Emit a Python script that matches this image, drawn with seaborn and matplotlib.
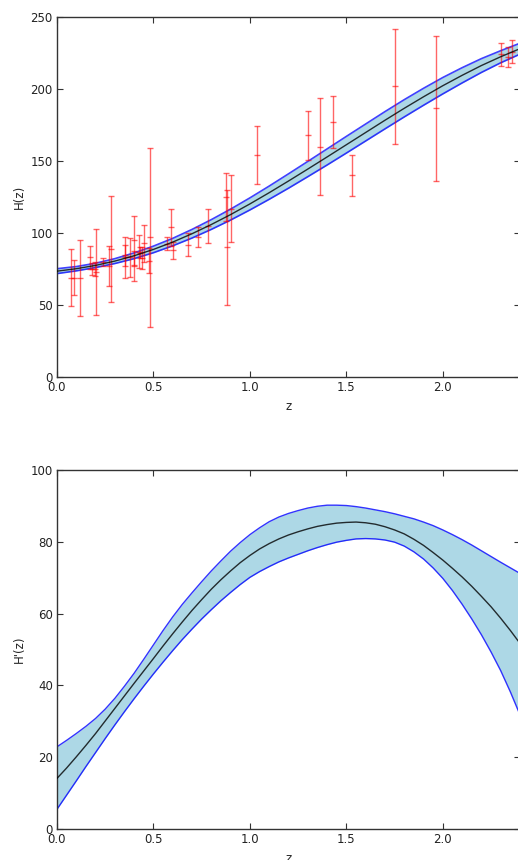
import matplotlib
matplotlib.use("Agg")
import matplotlib.pyplot as plt
import seaborn as sns
import numpy as np

# ---------------- data ----------------
z_H = [0.0, 0.1, 0.2, 0.3, 0.4, 0.5, 0.6, 0.7, 0.8, 0.9, 1.0, 1.1, 1.2,
       1.3, 1.4, 1.5, 1.6, 1.7, 1.8, 1.9, 2.0, 2.1, 2.2, 2.3, 2.4]

# reconstructed H(z): mean and 1-sigma half width
H_mean = [73.5, 75.2, 77.5, 80.5, 84.2, 88.6, 93.7, 99.5, 105.9, 112.8, 120.2,
          128.0, 136.1, 144.4, 152.8, 161.3, 169.8, 178.3, 186.6, 194.6, 202.3,
          209.5, 216.3, 222.4, 228.0]
H_sigma = [1.7, 1.5, 1.5, 1.7, 2.0, 2.3, 2.6, 3.0, 3.4, 3.8, 4.2, 4.6, 5.0,
           5.3, 5.6, 5.8, 5.9, 6.0, 6.0, 5.9, 5.7, 5.3, 4.8, 4.2, 3.8]

# reconstructed H'(z)
z_dH = [0.0, 0.05, 0.1, 0.15, 0.2, 0.25, 0.3, 0.35, 0.4, 0.45, 0.5, 0.55, 0.6,
        0.65, 0.7, 0.75, 0.8, 0.85, 0.9, 0.95, 1.0, 1.05, 1.1, 1.15, 1.2, 1.25,
        1.3, 1.35, 1.4, 1.45, 1.5, 1.55, 1.6, 1.65, 1.7, 1.75, 1.8, 1.85, 1.9,
        1.95, 2.0, 2.05, 2.1, 2.15, 2.2, 2.25, 2.3, 2.35, 2.4]
dH_upper = [22.9, 24.7, 26.6, 28.6, 30.8, 33.4, 36.4, 39.8, 43.4, 47.3, 51.3,
            55.3, 59.1, 62.6, 65.8, 68.9, 71.9, 74.7, 77.4, 79.8, 82.0, 83.9,
            85.6, 86.9, 87.9, 88.7, 89.4, 89.9, 90.2, 90.2, 90.1, 89.8, 89.4,
            88.9, 88.4, 87.8, 87.1, 86.4, 85.5, 84.5, 83.3, 82.0, 80.6, 79.1,
            77.5, 75.9, 74.3, 72.75, 71.2]
dH_mean = [14.1, 17.0, 20.1, 23.3, 26.6, 30.1, 33.6, 37.1, 40.6, 44.05, 47.5,
           51.0, 54.4, 57.7, 60.9, 63.9, 66.8, 69.45, 71.9, 74.2, 76.2, 78.0,
           79.5, 80.8, 81.9, 82.8, 83.6, 84.3, 84.8, 85.2, 85.4, 85.5, 85.3,
           84.9, 84.2, 83.3, 82.2, 80.7, 79.0, 77.0, 74.9, 72.6, 70.2, 67.6,
           64.8, 61.9, 58.7, 55.3, 51.7]
dH_lower = [5.5, 9.45, 13.4, 17.4, 21.3, 25.2, 29.0, 32.7, 36.3, 39.8, 43.2,
            46.5, 49.7, 52.8, 55.7, 58.5, 61.1, 63.6, 65.9, 68.1, 70.1, 71.7,
            73.1, 74.4, 75.5, 76.5, 77.5, 78.4, 79.2, 79.9, 80.4, 80.8, 80.9,
            80.8, 80.5, 79.9, 78.8, 77.2, 75.2, 72.7, 69.8, 66.4, 62.6, 58.5,
            54.1, 49.3, 44.1, 38.2, 31.8]

# observational H(z) data
z_obs = [0.07, 0.09, 0.12, 0.17, 0.179, 0.199, 0.2, 0.24, 0.27, 0.28, 0.35,
         0.352, 0.3802, 0.4, 0.4004, 0.4247, 0.43, 0.44, 0.4497, 0.4783, 0.48,
         0.57, 0.593, 0.6, 0.68, 0.73, 0.781, 0.875, 0.88, 0.9, 1.037, 1.3,
         1.363, 1.43, 1.53, 1.75, 1.965, 2.3, 2.34, 2.36]
H_obs = [69.0, 69.0, 68.6, 83.0, 75.0, 75.0, 72.9, 79.69, 77.0, 88.8, 84.4,
         83.0, 83.0, 95.0, 77.0, 87.1, 86.45, 82.6, 92.8, 80.9, 97.0,
         92.4, 104.0, 87.9, 92.0, 97.3, 105.0, 125.0, 90.0, 117.0, 154.0, 168.0,
         160.0, 177.0, 140.0, 202.0, 186.5, 224.0, 222.0, 226.0]
H_err = [19.6, 12.0, 26.2, 8.0, 4.0, 5.0, 29.6, 2.65, 14.0, 36.6, 7.0,
         14.0, 13.5, 17.0, 10.2, 11.2, 3.68, 7.8, 12.9, 9.0, 62.0,
         4.5, 13.0, 6.1, 8.0, 7.0, 12.0, 17.0, 40.0, 23.0, 20.0, 17.0,
         33.6, 18.0, 14.0, 40.0, 50.4, 8.0, 7.0, 8.0]

# ---------------- style ----------------
sns.set_style("ticks")
plt.rcParams['font.family'] = ['DejaVu Sans', 'Noto Sans']
spine_col = '#333333'

W, Hh = 518, 860
fig = plt.figure(figsize=(W / 100, Hh / 100), dpi=100)
ax1 = fig.add_axes([57 / W, 1 - 377 / Hh, 463 / W, 360 / Hh])
ax2 = fig.add_axes([57 / W, 1 - 829 / Hh, 463 / W, 359 / Hh])

zg = np.array(z_H)
Hm = np.array(H_mean)
Hs = np.array(H_sigma)

# ---- top panel ----
ax1.fill_between(zg, Hm - Hs, Hm + Hs, color='lightblue', lw=0, zorder=1)
sns.lineplot(x=zg, y=Hm + Hs, ax=ax1, color='blue', lw=1.2, alpha=0.75, zorder=2)
sns.lineplot(x=zg, y=Hm - Hs, ax=ax1, color='blue', lw=1.2, alpha=0.75, zorder=2)
ax1.errorbar(z_obs, H_obs, yerr=H_err, fmt='_', color='red', ecolor='red',
             alpha=0.6, elinewidth=1.0, capsize=2.2, capthick=1.0, ms=4.5,
             mew=1.0, zorder=3)
sns.lineplot(x=zg, y=Hm, ax=ax1, color='black', lw=1.0, alpha=0.8, zorder=4)
ax1.set_xlim(0, 2.4)
ax1.set_ylim(0, 250)
ax1.set_xticks([0.0, 0.5, 1.0, 1.5, 2.0])
ax1.set_yticks([0, 50, 100, 150, 200, 250])
ax1.set_xlabel('z', fontsize=8.5, labelpad=4)
ax1.set_ylabel('H(z)', fontsize=8.5)

# ---- bottom panel ----
ax2.fill_between(z_dH, dH_lower, dH_upper, color='lightblue', lw=0, zorder=1)
sns.lineplot(x=z_dH, y=dH_upper, ax=ax2, color='blue', lw=1.0, alpha=0.8, zorder=2)
sns.lineplot(x=z_dH, y=dH_lower, ax=ax2, color='blue', lw=1.0, alpha=0.8, zorder=2)
sns.lineplot(x=z_dH, y=dH_mean, ax=ax2, color='black', lw=1.0, alpha=0.8, zorder=3)
ax2.set_xlim(0, 2.4)
ax2.set_ylim(0, 100)
ax2.set_xticks([0.0, 0.5, 1.0, 1.5, 2.0])
ax2.set_yticks([0, 20, 40, 60, 80, 100])
ax2.set_xlabel('z', fontsize=8.5, labelpad=4)
ax2.set_ylabel("H'(z)", fontsize=8.5)

for ax in (ax1, ax2):
    ax.set_xticklabels(['0.0', '0.5', '1.0', '1.5', '2.0'])
    for s in ax.spines.values():
        s.set_visible(True)
        s.set_color(spine_col)
        s.set_linewidth(1.0)
    ax.tick_params(direction='in', top=True, right=True, length=4, width=0.8,
                   color=spine_col, labelsize=8.5, labelcolor='#222222', pad=3)
    ax.grid(False)

# place the y labels where the reference has them
ax1.yaxis.set_label_coords(-31 / 463, 0.5)
ax2.yaxis.set_label_coords(-31 / 463, 0.5)

fig.savefig('out.png', dpi=100)
